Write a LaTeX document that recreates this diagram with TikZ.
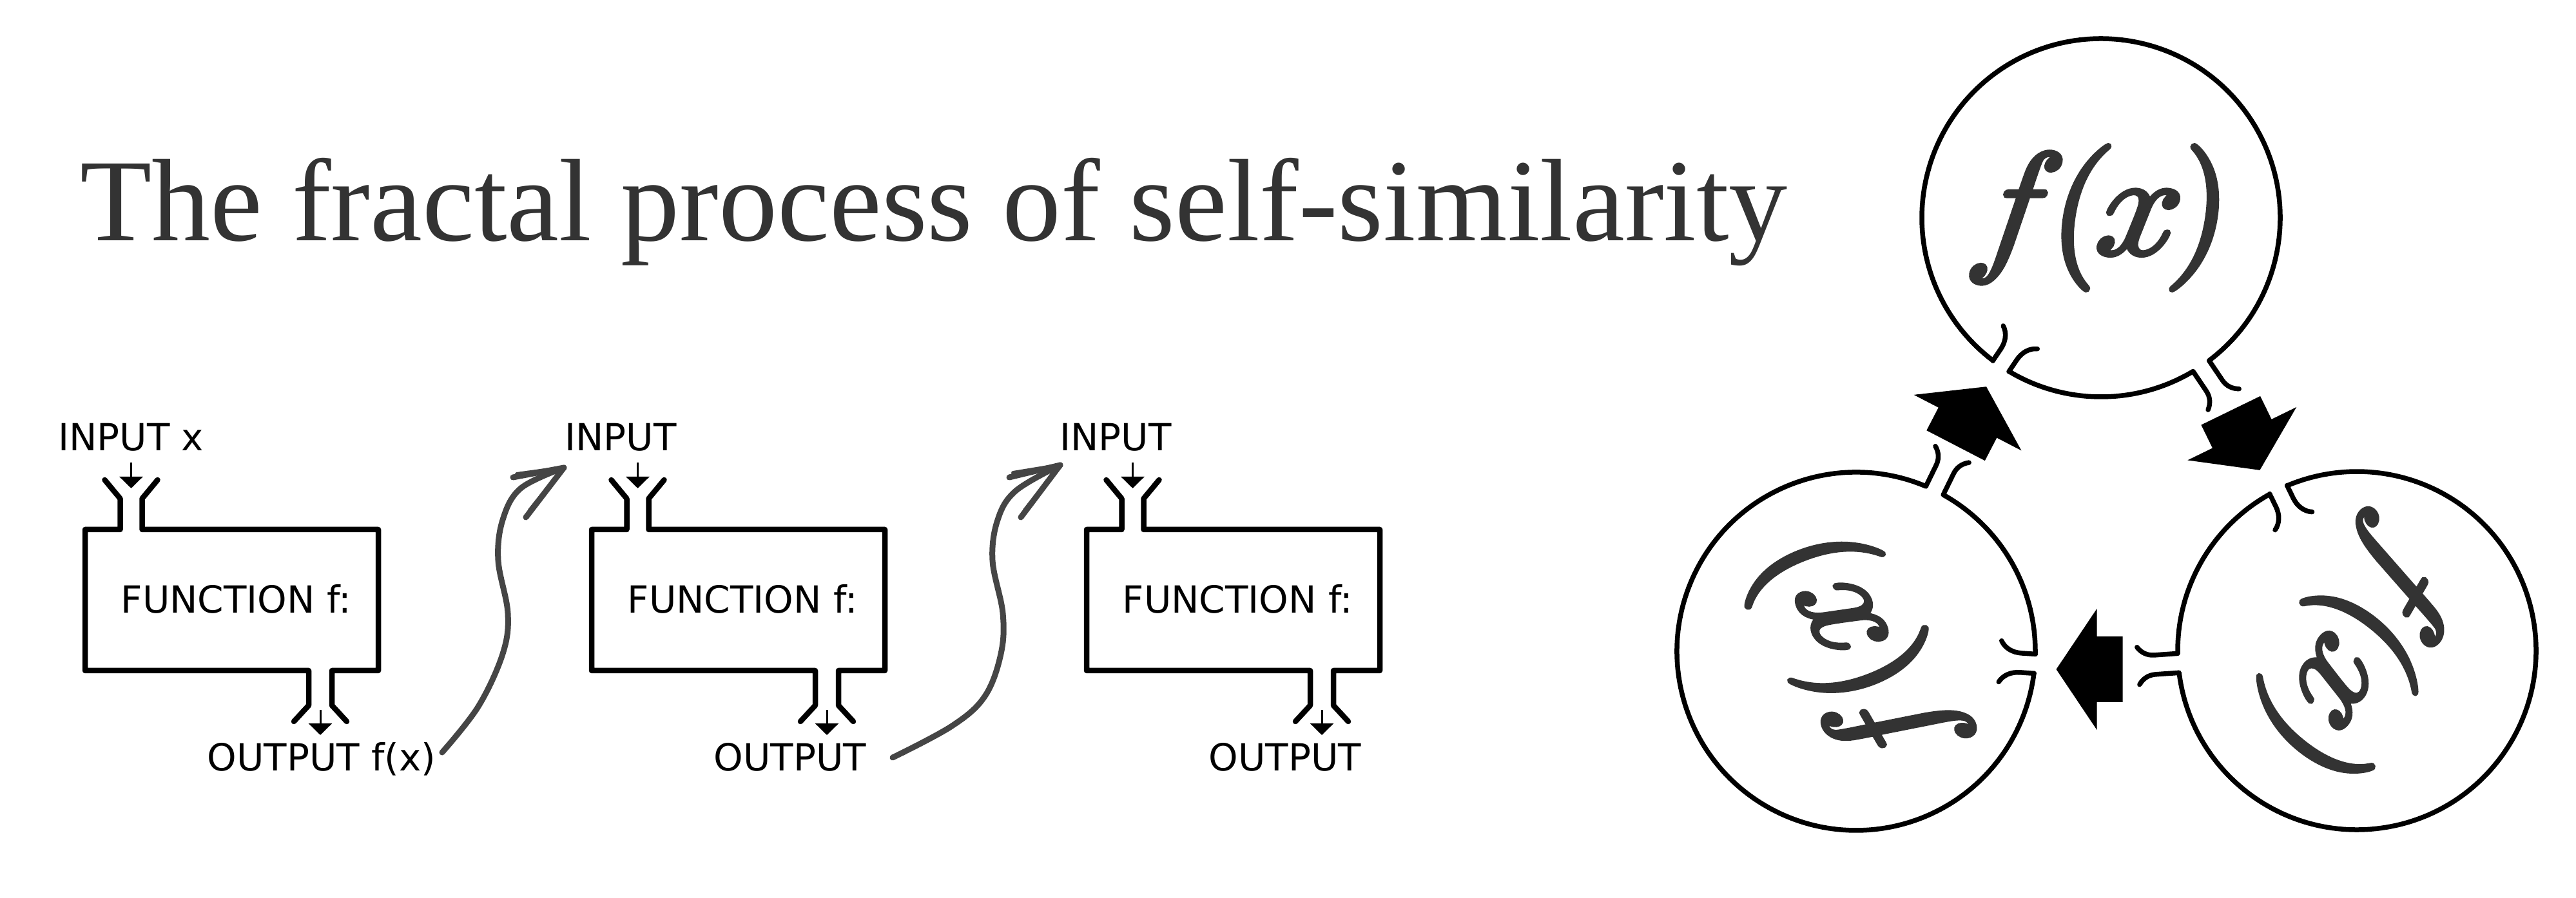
\documentclass[tikz,border=0pt]{standalone}
\usepackage[no-math]{fontspec}
\usetikzlibrary{arrows.meta}
\newfontfamily\titlefont{Liberation Serif}
\newfontfamily\labelfont{DejaVu Sans}
\definecolor{ink}{HTML}{333333}
\definecolor{pencil}{HTML}{454545}
% 太めの f(x) (文字の輪郭も塗る)
\newcommand{\heavyfx}{\special{pdf:literal direct 2 Tr 0.3 w}$f\mkern-1mu(\mkern-1mu x\mkern-1mu)$\special{pdf:literal direct 0 Tr}}

\tikzset{
    wall/.style={line width=0.085cm, line cap=round, line join=round},
    ring/.style={line width=0.075cm, line cap=round, line join=round},
    boxtext/.style={font=\labelfont\fontsize{16.5}{20}\selectfont, inner sep=0pt, anchor=base west},
    feed/.style={line width=0.03cm, -{Triangle[width=0.36cm, length=0.18cm]}},
    sketch/.style={pencil, line width=0.09cm, line cap=round, line join=round},
    fxtext/.style={ink, font=\fontsize{10}{12}\selectfont, scale=6.4, xslant=0.15, inner sep=0pt},
}

\begin{document}
\begin{tikzpicture}
    % 画像全体の大きさ (1 cm = 100 px)
    \useasboundingbox (0,0) rectangle (39.97,13.94);

    % タイトル
    \node[ink, font=\titlefont\fontsize{51.8}{60}\selectfont, inner sep=0pt, anchor=base west] (title) at (1.24,10.20) {The fractal process of self-similarity};

    % 関数の箱を三つ (左端の x, 入力ラベル, 出力ラベル)
    \foreach \bx/\inp/\outp [count=\i] in {1.32/INPUT x/OUTPUT f(x), 9.18/INPUT/OUTPUT, 16.86/INPUT/OUTPUT} {
        \pgfmathsetmacro\ic{\bx+0.715}
        \pgfmathsetmacro\oc{\bx+3.65}
        \pgfmathsetmacro\rx{\bx+4.55}

        % 箱の枠 (上に入口、下に出口の漏斗)
        \draw[wall] (\ic-0.41,6.49) -- (\ic-0.17,6.20) -- (\ic-0.17,5.72) -- (\bx,5.72) -- (\bx,3.53)
            -- (\oc-0.18,3.53) -- (\oc-0.18,2.99) -- (\oc-0.41,2.74);
        \draw[wall] (\ic+0.41,6.49) -- (\ic+0.17,6.20) -- (\ic+0.17,5.72) -- (\rx,5.72) -- (\rx,3.53)
            -- (\oc+0.18,3.53) -- (\oc+0.18,2.99) -- (\oc+0.41,2.74);

        % ラベル
        \node[boxtext] (in\i) at (\ic-1.14,6.94) {\inp};
        \node[boxtext] (fn\i) at (\bx+0.55,4.42) {FUNCTION f:};
        \node[boxtext] (out\i) at (\oc-1.76,1.97) {\outp};

        % 入口と出口の小さな矢印
        \coordinate (ia\i) at (\ic,6.76);
        \coordinate (ib\i) at (\ic,6.36);
        \coordinate (oa\i) at (\oc,2.92);
        \coordinate (ob\i) at (\oc,2.53);
        \draw[feed] (ia\i) -- (ib\i);
        \draw[feed] (oa\i) -- (ob\i);
    }

    % 出力から次の入力へ (手描き風の矢印)
    \coordinate (w1s) at (6.86,2.26);
    \coordinate (w1e) at (8.75,6.68);
    \draw[sketch] plot[smooth, tension=0.6] coordinates {(w1s) (7.42,2.97) (7.80,3.79) (7.88,4.42) (7.73,5.24) (7.80,5.87) (8.08,6.36) (w1e)};
    \draw[sketch] (7.96,6.53) -- (w1e) -- (8.16,5.91);
    \draw[sketch, line width=0.06cm] (8.02,6.58) -- (w1e) -- (8.22,6.02);

    \coordinate (w2s) at (13.85,2.18);
    \coordinate (w2e) at (16.45,6.72);
    \draw[sketch] plot[smooth, tension=0.6] coordinates {(w2s) (14.77,2.67) (15.28,3.13) (15.53,3.79) (15.56,4.42) (15.40,5.24) (15.48,5.87) (15.76,6.32) (w2e)};
    \draw[sketch] (15.66,6.53) -- (w2e) -- (15.84,5.91);
    \draw[sketch, line width=0.06cm] (15.72,6.60) -- (w2e) -- (15.90,6.02);

    % 三つの円 (中心, 回転角): 入口は 236 度、出口は 304 度
    \foreach \cx/\cy/\a [count=\i] in {32.60/10.56/0, 28.80/3.83/120, 36.57/3.84/240} {
        \begin{scope}[shift={(\cx,\cy)}, rotate=\a]
            \node[rotate=\a, fxtext] (fx\i) at (0,0) {\heavyfx};

            % 円周 (二か所で切れている)
            \draw[ring] (239.1:2.78) arc[start angle=239.1, end angle=300.9, radius=2.78];
            \draw[ring] (307.1:2.78) arc[start angle=307.1, end angle=592.9, radius=2.78];

            % 入口 (内向き)
            \foreach \s in {1,-1}
                \draw[ring, rotate=236, yscale=\s] (2.78,0.15) -- (2.56,0.15) .. controls (2.42,0.15) and (2.30,0.21) .. (2.24,0.32);

            % 出口 (外向き)
            \foreach \s in {1,-1}
                \draw[ring, rotate=304, yscale=\s] (2.78,0.15) -- (3.14,0.15) .. controls (3.25,0.15) and (3.34,0.20) .. (3.40,0.29);
        \end{scope}
    }

    % 円と円の間の太い矢印 (中心, 向き)
    \foreach \mx/\my/\r in {34.84/7.10/296, 30.585/7.485/62.6, 32.415/3.55/180}
        \fill[shift={(\mx,\my)}, rotate=\r] (0.51,0) -- (-0.12,0.94) -- (-0.12,0.51) -- (-0.52,0.51)
            -- (-0.52,-0.51) -- (-0.12,-0.51) -- (-0.12,-0.94) -- cycle;
\end{tikzpicture}
\end{document}
